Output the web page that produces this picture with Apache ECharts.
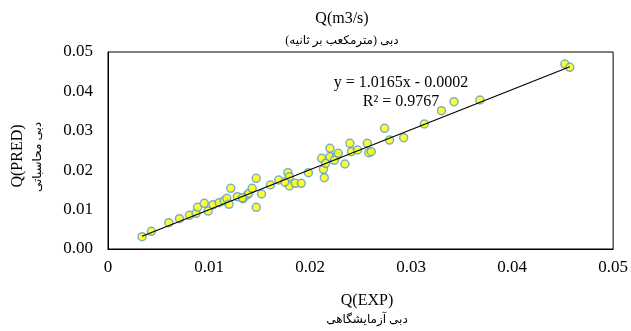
<!DOCTYPE html>
<html>
<head>
<meta charset="utf-8">
<title>ECharts</title>
<script src="https://cdn.jsdelivr.net/npm/echarts@6/dist/echarts.min.js"></script>
</head>
<body style="margin:0">
<div id="main" style="width: 631px; height: 331px;"></div>
<script type="text/javascript">
// measured vs predicted discharge
var qExp = [0.00337, 0.00429, 0.00602, 0.00707, 0.00806, 0.00871, 0.00887, 0.00953, 0.00992, 0.01041,
	0.01100, 0.01150, 0.01176, 0.01198, 0.01215, 0.01280, 0.01336, 0.01378, 0.01395, 0.01427,
	0.01467, 0.01467, 0.01520, 0.01608, 0.01690, 0.01781, 0.01795, 0.01795, 0.01853, 0.01913,
	0.01984, 0.02115, 0.02132, 0.02141, 0.02154, 0.02197, 0.02197, 0.02262, 0.02279, 0.02345,
	0.02394, 0.02410, 0.02469, 0.02567, 0.02581, 0.02606, 0.02738, 0.02787, 0.02927, 0.03131,
	0.03301, 0.03425, 0.03681, 0.04522, 0.04571, 0.01330, 0.01750, 0.02240];
var qPred = [0.00312, 0.00449, 0.00668, 0.00770, 0.00855, 0.00906, 0.01058, 0.01160, 0.00964, 0.01124,
	0.01175, 0.01226, 0.01287, 0.01134, 0.01541, 0.01327, 0.01277, 0.01371, 0.01413, 0.01540,
	0.01794, 0.01058, 0.01396, 0.01624, 0.01751, 0.01937, 0.01835, 0.01600, 0.01667, 0.01667,
	0.01937, 0.02302, 0.02023, 0.01810, 0.02175, 0.02556, 0.02343, 0.02360, 0.02429, 0.02157,
	0.02683, 0.02470, 0.02513, 0.02683, 0.02444, 0.02470, 0.03063, 0.02766, 0.02825, 0.03173,
	0.03510, 0.03739, 0.03782, 0.04695, 0.04611, 0.01300, 0.01700, 0.02250];
var xTicks = [0, 0.01, 0.02, 0.03, 0.04, 0.05];
var yTicks = [0, 0.01, 0.02, 0.03, 0.04, 0.05];
// linear trend reported on the chart
var slope = 1.0165;
var intercept = -0.0002;
var r2 = 0.9767;

var points = [];
for (var i = 0; i < qExp.length; i++) {
	points.push([qExp[i], qPred[i]]);
}
var xMin = Math.min.apply(null, qExp);
var xMax = Math.max.apply(null, qExp);
var trend = [[xMin, slope * xMin + intercept], [xMax, slope * xMax + intercept]];

var serif = '"Liberation Serif", "DejaVu Serif", serif';
var fa = '"Liberation Serif", "DejaVu Sans", sans-serif';

var myChart = echarts.init(document.getElementById('main'));
var option = {
	animation: false,
	backgroundColor: '#fff',
	title: [{
		text: 'Q(m3/s)',
		left: 337, top: 6, textAlign: 'center',
		textStyle: { fontFamily: serif, fontSize: 16, fontWeight: 'normal', color: '#000' }
	}, {
		text: 'دبی (مترمکعب بر ثانیه)',
		left: 337, top: 30, textAlign: 'center',
		textStyle: { fontFamily: fa, fontSize: 12, fontWeight: 'normal', color: '#000' }
	}, {
		text: 'Q(EXP)',
		left: 362, top: 288, textAlign: 'center',
		textStyle: { fontFamily: serif, fontSize: 16, fontWeight: 'normal', color: '#000' }
	}, {
		text: 'دبی آزمایشگاهی',
		left: 362, top: 309, textAlign: 'center',
		textStyle: { fontFamily: fa, fontSize: 12, fontWeight: 'normal', color: '#000' }
	}],
	graphic: [{
		type: 'text', x: 18, y: 156, rotation: Math.PI / 2,
		style: { text: 'Q(PRED)', font: '16px ' + serif, fill: '#000', align: 'center', verticalAlign: 'middle' }
	}, {
		type: 'text', x: 38, y: 157, rotation: Math.PI / 2,
		style: { text: 'دبی محاسباتی', font: '12px ' + fa, fill: '#000', align: 'center', verticalAlign: 'middle' }
	}, {
		type: 'text', x: 401, y: 83,
		style: { text: 'y = ' + slope + 'x - ' + Math.abs(intercept).toFixed(4), font: '16px ' + serif, fill: '#000', align: 'center', verticalAlign: 'middle' }
	}, {
		type: 'text', x: 401, y: 102,
		style: { text: 'R² = ' + r2, font: '16px ' + serif, fill: '#000', align: 'center', verticalAlign: 'middle' }
	}],
	grid: {
		left: 108, right: 14, top: 52, bottom: 82,
		show: true, borderColor: '#000', borderWidth: 1
	},
	xAxis: {
		type: 'value', min: xTicks[0], max: xTicks[xTicks.length - 1], interval: 0.01,
		axisLine: { show: true, lineStyle: { color: '#000' } },
		axisTick: { show: false },
		splitLine: { show: false },
		axisLabel: {
			margin: 10, color: '#000', fontFamily: serif, fontSize: 17,
			formatter: function (v) { return v === 0 ? '0' : v.toFixed(2); }
		}
	},
	yAxis: {
		type: 'value', min: yTicks[0], max: yTicks[yTicks.length - 1], interval: 0.01,
		axisLine: { show: true, lineStyle: { color: '#000' } },
		axisTick: { show: false },
		splitLine: { show: false },
		axisLabel: {
			margin: 15, color: '#000', fontFamily: serif, fontSize: 17,
			formatter: function (v) { return v.toFixed(2); }
		}
	},
	series: [{
		type: 'scatter',
		data: points,
		symbolSize: 8,
		itemStyle: { color: '#FFFF00', borderColor: '#5B9BD5', borderWidth: 1.5 },
		z: 2
	}, {
		type: 'line',
		data: trend,
		symbol: 'none',
		lineStyle: { color: '#000', width: 1.2 },
		z: 3
	}]
};
myChart.setOption(option);
</script>
</body>
</html>
